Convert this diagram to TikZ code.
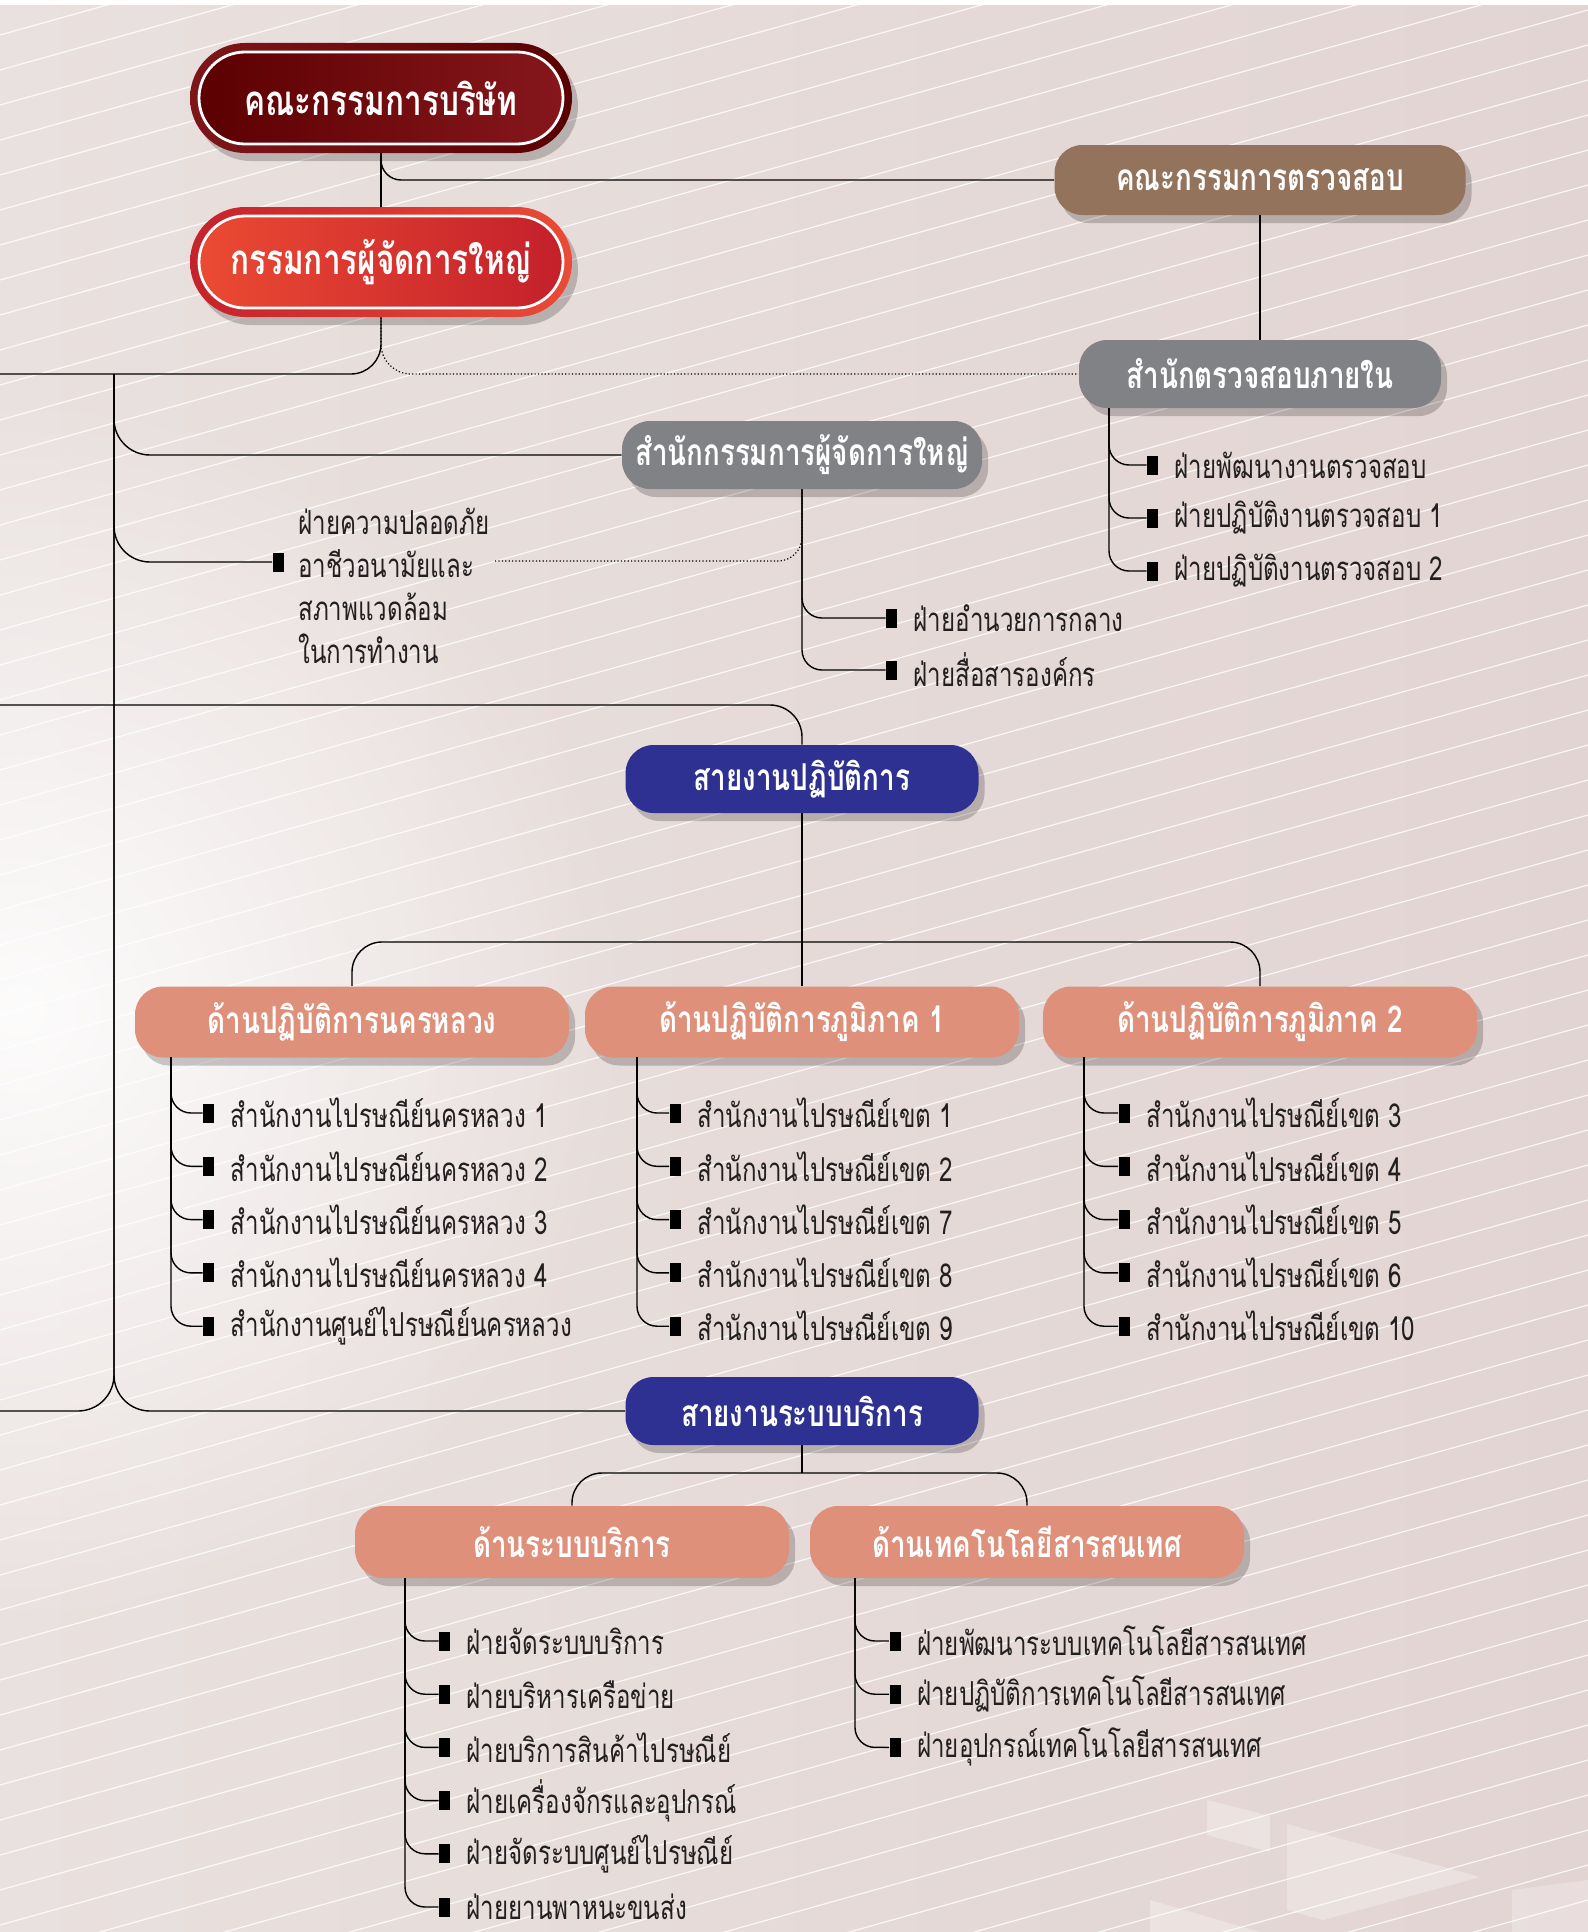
\documentclass[tikz,border=0pt]{standalone}
\usepackage{fontspec}
\setmainfont[Script=Thai]{Loma}
\newfontfamily\itemfont[Script=Thai,FakeStretch=0.73]{Loma}
\newfontfamily\boxfont[Script=Thai,FakeStretch=0.75]{Loma}
\usetikzlibrary{positioning,shapes.misc,shadows,fadings}

\definecolor{bgL}{HTML}{E9E1DF}
\definecolor{bgR}{HTML}{E2D4D2}
\definecolor{boardL}{HTML}{7E1619}
\definecolor{boardR}{HTML}{5A0103}
\definecolor{boardIL}{HTML}{5C0002}
\definecolor{boardIR}{HTML}{86171C}
\definecolor{mdL}{HTML}{C5232B}
\definecolor{mdR}{HTML}{EA4B36}
\definecolor{mdIL}{HTML}{EB4A33}
\definecolor{mdIR}{HTML}{C4202B}
\definecolor{acbrown}{HTML}{93735C}
\definecolor{offgray}{HTML}{818286}
\definecolor{linenavy}{HTML}{2E3192}
\definecolor{salmon}{HTML}{DE907B}
\definecolor{itemtext}{HTML}{231F20}

\tikzfading[name=glowfade, inner color=transparent!0, outer color=transparent!100]

\tikzset{
  boxshadow/.style={drop shadow={shadow xshift=3pt, shadow yshift=-4pt, opacity=0.2, fill=black}},
  pillout/.style={rounded rectangle, minimum width=191pt, minimum height=55pt, inner sep=0pt, boxshadow},
  pillin/.style={rounded rectangle, draw=white, line width=1.4pt, minimum width=182pt, minimum height=46pt,
    inner sep=0pt, text=white, font=\boxfont\bfseries\fontsize{21}{24}\selectfont},
  hbox/.style={rectangle, rounded corners=14pt, inner sep=0pt, minimum height=34pt, text=white,
    font=\boxfont\bfseries\fontsize{18.5}{22}\selectfont, boxshadow},
  sbox/.style={hbox, fill=salmon, minimum width=217pt, minimum height=35.5pt},
  sq/.style={fill=black, minimum width=5.5pt, minimum height=9.5pt, inner sep=0pt},
  itm/.style={inner sep=0pt, text=itemtext, font=\itemfont\fontsize{16.5}{21.5}\selectfont},
  conn/.style={line width=0.7pt, rounded corners=10pt},
  dotline/.style={line width=0.6pt, dash pattern=on 0.6pt off 1.1pt, rounded corners=12pt},
  stripe/.style={white, line width=0.6pt, opacity=0.8}
}

\begin{document}
\begin{tikzpicture}[x=0.5pt,y=0.5pt,yscale=-1]
\useasboundingbox (0,0) rectangle (1588,1932);

% background
\fill[white] (0,0) rectangle (1588,1932);
\begin{scope}
  \clip (0,6) rectangle (1588,1932);
  \shade[left color=bgL, right color=bgR] (0,6) rectangle (1588,1932);
  \fill[white, path fading=glowfade, fill opacity=0.9] (20,1010) circle (620);
  \foreach \s in {0,35,...,2415}
    \draw[stripe] (0,\s) -- (1588,\s-445);
  \fill[white, opacity=0.3] (1207,1800) -- (1270,1816) -- (1270,1852) -- (1207,1835) -- cycle;
  \fill[white, opacity=0.3] (1287,1824) -- (1480,1877) -- (1323,1920) -- (1287,1910) -- cycle;
  \fill[white, opacity=0.25] (1512,1890) -- (1588,1880) -- (1588,1932) -- (1512,1932) -- cycle;
  \fill[white, opacity=0.3] (1150,1900) -- (1260,1932) -- (1150,1932) -- cycle;
\end{scope}

% top boards
\node[pillout, left color=boardL, right color=boardR] (board) at (381,98) {};
\node[pillin, left color=boardIL, right color=boardIR] (boardin) at (board) {คณะกรรมการบริษัท};
\node[pillout, left color=mdL, right color=mdR] (md) at (381,262) {};
\node[pillin, left color=mdIL, right color=mdIR] (mdin) at (md) {กรรมการผู้จัดการใหญ่};

\node[hbox, fill=acbrown, minimum width=205.5pt, minimum height=35pt] (ac) at (1260,180) {คณะกรรมการตรวจสอบ};
\node[hbox, fill=offgray, minimum width=181pt] (ia) at (1260,374) {สำนักตรวจสอบภายใน};
\node[hbox, fill=offgray, minimum width=180pt] (omd) at (802,455) {สำนักกรรมการผู้จัดการใหญ่};

% lines of work
\node[hbox, fill=linenavy, minimum width=176.5pt] (ops) at (802,779) {สายงานปฏิบัติการ};
\node[hbox, fill=linenavy, minimum width=176.5pt] (svc) at (802,1411) {สายงานระบบบริการ};

\node[sbox] (nkl) at (352,1022) {ด้านปฏิบัติการนครหลวง};
\node[sbox] (reg1) at (802,1022) {ด้านปฏิบัติการภูมิภาค 1};
\node[sbox] (reg2) at (1260,1022) {ด้านปฏิบัติการภูมิภาค 2};
\node[sbox, minimum height=36pt] (sys) at (572,1542) {ด้านระบบบริการ};
\node[sbox, minimum height=36pt] (it) at (1027,1542) {ด้านเทคโนโลยีสารสนเทศ};

% free ends
\coordinate (lmd) at (0,374);
\coordinate (ltop) at (114,374);
\coordinate (lops) at (0,705);
\coordinate (lbot) at (0,1411);
\coordinate (safed) at (495,561);
\coordinate (opsj) at (802,942);
\coordinate (svcj) at (802,1473);
\coordinate (iatr) at (1109,408);
\coordinate (nkltr) at (171,1057);
\coordinate (reg1tr) at (637,1057);
\coordinate (reg2tr) at (1084,1057);
\coordinate (systr) at (405,1578);
\coordinate (ittr) at (855,1578);

% connectors
\draw[conn] (board.south) -- (md.north);
\draw[conn] (board.south) |- (ac.west);
\draw[conn] (ac.south) -- (ia.north);
\draw[conn, rounded corners=15pt] (md.south) |- (lmd);
\draw[dotline, rounded corners=15pt] (md.south) |- (ia.west);
\draw[conn, rounded corners=18pt] (ltop) |- (omd.west);
\draw[conn, rounded corners=18pt] (ltop) |- (svc.west);
\draw[conn, rounded corners=18pt] (ltop) |- (lbot);
\draw[conn, rounded corners=16pt] (lops) -| (ops.north);
\draw[conn] (ops.south) -- (reg1.north);
\draw[conn, rounded corners=15pt] (opsj) -| (nkl.north);
\draw[conn, rounded corners=15pt] (opsj) -| (reg2.north);
\draw[conn] (svc.south) -- (svcj);
\draw[conn, rounded corners=15pt] (svcj) -| (sys.north);
\draw[conn, rounded corners=15pt] (svcj) -| (it.north);

% safety unit
\node[sq] (safeb) at (278,562) {};
\node[itm, align=left, anchor=west] (safet) at (298,586) {ฝ่ายความปลอดภัย\\อาชีวอนามัยและ\\สภาพแวดล้อม\\ในการทำงาน};
\draw[conn, rounded corners=18pt] (ltop) |- (safeb.west);
\draw[dotline] (safed) -| (omd.south);

% units
\foreach \t [count=\i] in {ฝ่ายพัฒนางานตรวจสอบ, ฝ่ายปฏิบัติงานตรวจสอบ 1, ฝ่ายปฏิบัติงานตรวจสอบ 2} {
  \node[sq] (iab\i) at (1152.5,{412+53*\i}) {};
  \node[itm, right=8pt of iab\i] (iat\i) {\t};
  \draw[conn] (iatr) |- (iab\i.west);
}
\foreach \t [count=\i] in {ฝ่ายอำนวยการกลาง, ฝ่ายสื่อสารองค์กร} {
  \node[sq] (omdb\i) at (891.5,{566+52*\i}) {};
  \node[itm, right=8pt of omdb\i] (omdt\i) {\t};
  \draw[conn] (omd.south) |- (omdb\i.west);
}
\foreach \t [count=\i] in {สำนักงานไปรษณีย์นครหลวง 1, สำนักงานไปรษณีย์นครหลวง 2, สำนักงานไปรษณีย์นครหลวง 3,
    สำนักงานไปรษณีย์นครหลวง 4, สำนักงานศูนย์ไปรษณีย์นครหลวง} {
  \node[sq] (nklb\i) at (208.5,{1059.7+53.3*\i}) {};
  \node[itm, right=8pt of nklb\i] (nklt\i) {\t};
  \draw[conn] (nkltr) |- (nklb\i.west);
}
\foreach \t [count=\i] in {1,2,7,8,9} {
  \node[sq] (reg1b\i) at (675,{1059.7+53.3*\i}) {};
  \node[itm, right=8pt of reg1b\i] (reg1t\i) {สำนักงานไปรษณีย์เขต \t};
  \draw[conn] (reg1tr) |- (reg1b\i.west);
}
\foreach \t [count=\i] in {3,4,5,6,10} {
  \node[sq] (reg2b\i) at (1124,{1059.7+53.3*\i}) {};
  \node[itm, right=8pt of reg2b\i] (reg2t\i) {สำนักงานไปรษณีย์เขต \t};
  \draw[conn] (reg2tr) |- (reg2b\i.west);
}
\foreach \t [count=\i] in {ฝ่ายจัดระบบบริการ, ฝ่ายบริหารเครือข่าย, ฝ่ายบริการสินค้าไปรษณีย์,
    ฝ่ายเครื่องจักรและอุปกรณ์, ฝ่ายจัดระบบศูนย์ไปรษณีย์, ฝ่ายยานพาหนะขนส่ง} {
  \node[sq] (sysb\i) at (444.5,{1587.8+53.2*\i}) {};
  \node[itm, right=8pt of sysb\i] (syst\i) {\t};
  \draw[conn] (systr) |- (sysb\i.west);
}
\foreach \t [count=\i] in {ฝ่ายพัฒนาระบบเทคโนโลยีสารสนเทศ, ฝ่ายปฏิบัติการเทคโนโลยีสารสนเทศ, ฝ่ายอุปกรณ์เทคโนโลยีสารสนเทศ} {
  \node[sq] (itb\i) at (895,{1587.8+53.2*\i}) {};
  \node[itm, right=8pt of itb\i] (itt\i) {\t};
  \draw[conn] (ittr) |- (itb\i.west);
}

\end{tikzpicture}
\end{document}
